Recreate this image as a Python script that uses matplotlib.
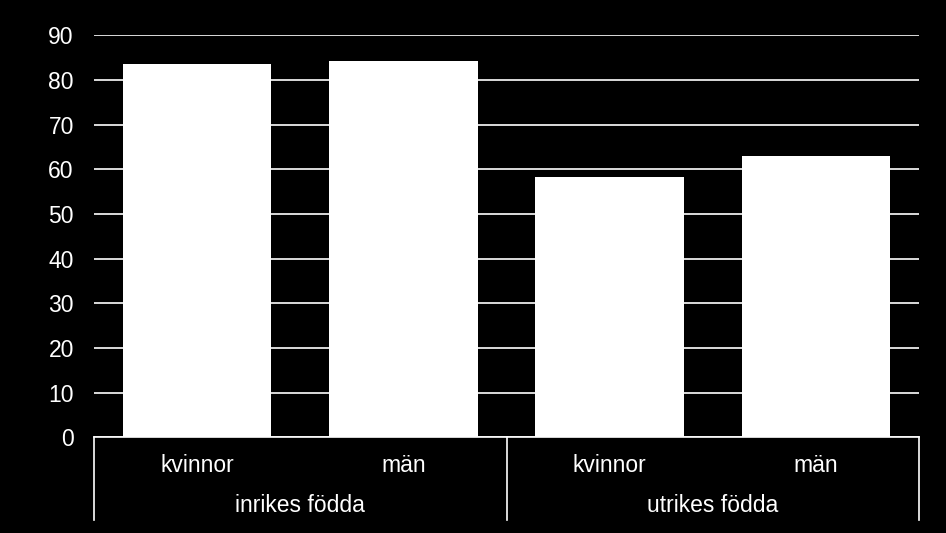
import matplotlib.pyplot as plt
from matplotlib.lines import Line2D

# data
groups = ['inrikes födda', 'utrikes födda']
sexes = ['kvinnor', 'män']
values = [83.6, 84.3, 58.2, 63.0]
yticks = list(range(0, 91, 10))

plt.rcParams['font.family'] = ['Liberation Sans', 'DejaVu Sans']

W, H = 946, 533
fig = plt.figure(figsize=(W / 100, H / 100), dpi=100, facecolor='black')

# plot area in pixels: x 94..919, y 35.3..437.3
left, right, top, bottom = 94, 919, 35.3, 437.3
ax = fig.add_axes([left / W, (H - bottom) / H, (right - left) / W, (bottom - top) / H])
ax.set_facecolor('black')

x = list(range(len(values)))
ax.set_axisbelow(True)
ax.yaxis.grid(True, color='white', linewidth=1.2)
ax.bar(x, values, width=0.72, color='white', zorder=3)

ax.set_xlim(-0.5, len(values) - 0.5)
ax.set_ylim(0, 90)
ax.set_yticks(yticks)
ax.tick_params(axis='y', length=0, pad=14.5, labelsize=16.5, labelcolor='white')
ax.set_xticks([])
for s in ax.spines.values():
    s.set_visible(False)

# two-level category axis
trans = ax.get_xaxis_transform()
h = bottom - top
def yax(px):
    return (bottom - px) / h

ax.add_line(Line2D([-0.5, 3.5], [0, 0], transform=trans, color='white',
                   linewidth=1.2, clip_on=False))
for xv in [-0.5, 1.5, 3.5]:
    ax.add_line(Line2D([xv, xv], [0, yax(519.5)], transform=trans, color='white',
                       linewidth=1.2, clip_on=False))

for i in x:
    ax.text(i, yax(466), sexes[i % 2], transform=trans, color='white',
            fontsize=16.5, ha='center', va='center')
for g, name in enumerate(groups):
    ax.text(2 * g + 0.5, yax(506), name, transform=trans, color='white',
            fontsize=16.5, ha='center', va='center')

fig.savefig('out.png', dpi=100, facecolor='black')
